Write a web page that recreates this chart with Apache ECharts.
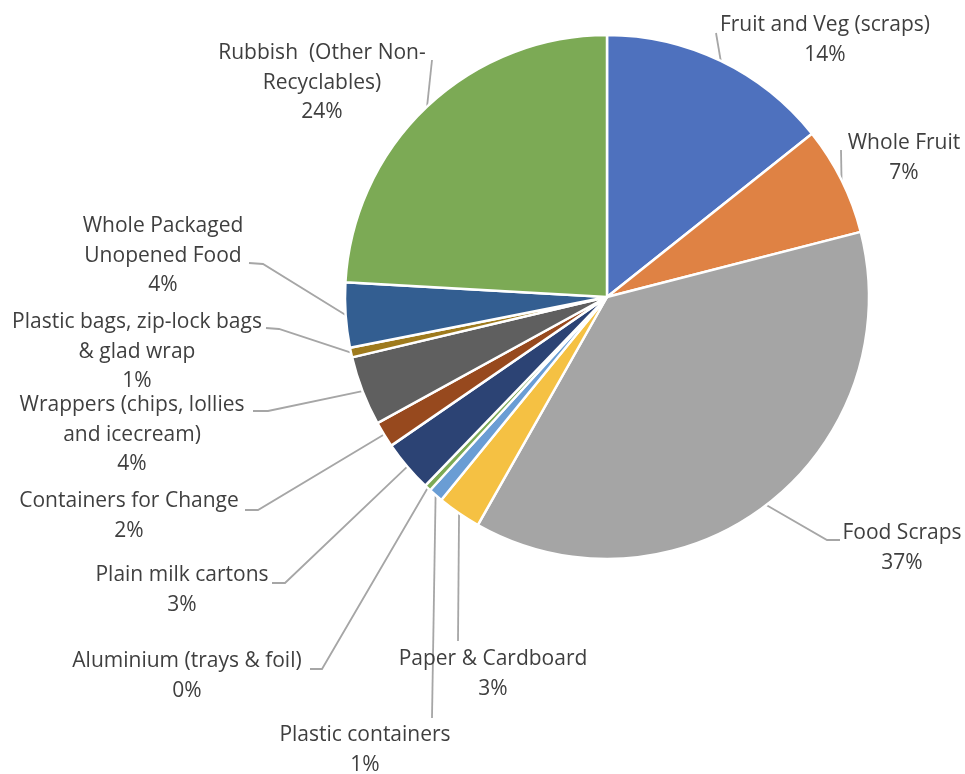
<!DOCTYPE html>
<html>
<head>
<meta charset="utf-8">
<script src="https://cdn.jsdelivr.net/npm/echarts@6/dist/echarts.min.js"></script>
<style>
  html, body { margin: 0; padding: 0; background: #fff; }
  #chart { width: 965px; height: 774px; }
</style>
</head>
<body>
<div id="chart"></div>
<script>
// waste audit categories, clockwise from 12 o'clock
const categories = [
  'Fruit and Veg (scraps)',
  'Whole Fruit',
  'Food Scraps',
  'Paper & Cardboard',
  'Plastic containers',
  'Aluminium (trays & foil)',
  'Plain milk cartons',
  'Containers for Change',
  'Wrappers (chips, lollies\nand icecream)',
  'Plastic bags, zip-lock bags\n& glad wrap',
  'Whole Packaged\nUnopened Food',
  'Rubbish  (Other Non-\nRecyclables)'
]
// share of total, percent
const shares = [14.3, 6.7, 37.2, 2.7, 0.9, 0.4, 3.2, 1.6, 4.3, 0.6, 4.0, 24.1]

const colors = [
  '#4E71BE', '#DF8244', '#A5A5A5', '#F5C143', '#6A9DD4', '#7CAA55',
  '#2C4374', '#97491E', '#5F5F5F', '#9E7A1D', '#335E91', '#7CAA55'
]

// where each label sits (centre of text block) and where its leader line ends
const labelSpots = [
  { x: 825, y: 40, line: [[716, 33]] },
  { x: 904, y: 158, line: [[841, 150]] },
  { x: 902, y: 548, line: [[827, 540], [840, 540]] },
  { x: 493, y: 674, line: [[458, 641]] },
  { x: 365, y: 750, line: [[432, 718]] },
  { x: 187, y: 676, line: [[322, 669], [310, 669]] },
  { x: 182, y: 590, line: [[285, 583], [272, 583]] },
  { x: 129, y: 516, line: [[258, 510], [245, 510]] },
  { x: 132, y: 435, line: [[268, 411], [253, 411]] },
  { x: 137, y: 352, line: [[279, 329], [266, 328]] },
  { x: 163, y: 256, line: [[263, 264], [249, 263]] },
  { x: 322, y: 83, line: [[432, 60]] }
]

const chart = echarts.init(document.getElementById('chart'), null, { renderer: 'canvas' })

const option = {
  animation: false,
  color: colors,
  series: [
    {
      type: 'pie',
      center: [607, 297],
      radius: 262,
      startAngle: 90,
      clockwise: true,
      avoidLabelOverlap: false,
      itemStyle: { borderColor: '#fff', borderWidth: 2.5 },
      label: {
        show: true,
        position: 'outside',
        color: '#3F3F3F',
        fontFamily: 'Open Sans',
        fontSize: 21,
        lineHeight: 29.5,
        align: 'center',
        formatter: p => p.name + '\n' + Math.round(p.value) + '%'
      },
      labelLine: {
        show: true,
        length: 10,
        length2: 10,
        lineStyle: { color: '#A6A6A6', width: 1.8 }
      },
      labelLayout: params => {
        const spot = labelSpots[params.dataIndex]
        const start = params.labelLinePoints[0]
        const pts = [start].concat(spot.line)
        if (pts.length < 3) pts.push(spot.line[spot.line.length - 1])
        return {
          x: spot.x,
          y: spot.y,
          align: 'center',
          verticalAlign: 'middle',
          labelLinePoints: pts
        }
      },
      emphasis: { disabled: true },
      data: categories.map((name, i) => ({ name: name, value: shares[i] }))
    }
  ]
}

chart.setOption(option)
</script>
</body>
</html>
